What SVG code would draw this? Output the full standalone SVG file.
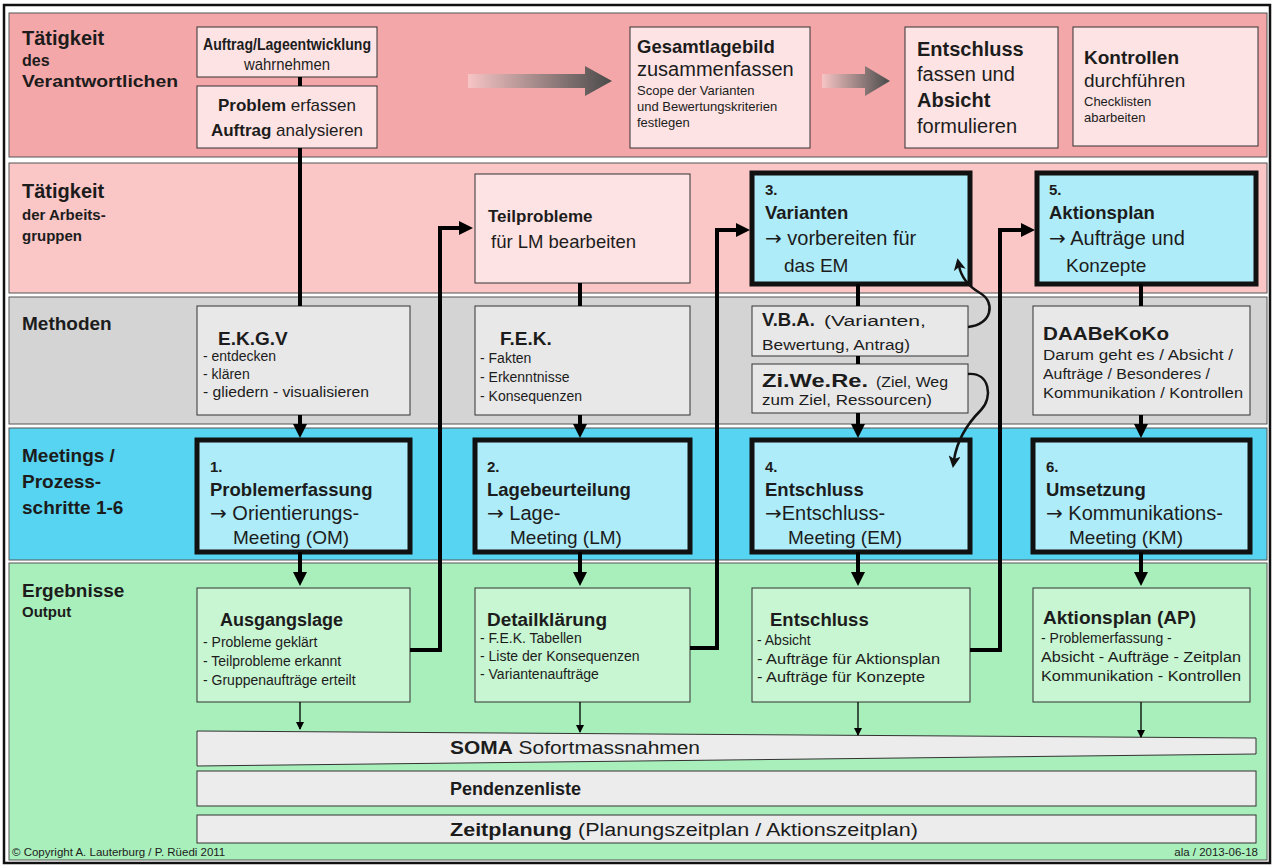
<svg xmlns="http://www.w3.org/2000/svg" width="1274" height="867" viewBox="0 0 1274 867">
<style>
text{font-family:"Liberation Sans",Arial,Helvetica,sans-serif;fill:#1c1c1c}
.b{font-weight:bold}
.h{font-size:19px;font-weight:bold}
.m{font-size:15px;font-weight:bold}
.x{font-size:17px}
.y{font-size:19px}
.z{font-size:20px}
.s{font-size:14px}
.xs{font-size:13px}
.arw{font-family:"DejaVu Sans",sans-serif}
.band{stroke:#555;stroke-width:1}
.pk{fill:#fde3e3;stroke:#333;stroke-width:1}
.gy{fill:#e8e8e8;stroke:#333;stroke-width:1}
.gn{fill:#c8f5d2;stroke:#333;stroke-width:1}
.cy{fill:#aeecf9;stroke:#111;stroke-width:5}
.bar{fill:#ececec;stroke:#333;stroke-width:1}
.ln{stroke:#000;stroke-width:4;fill:none}
.ar{stroke:#000;stroke-width:4;fill:none;marker-end:url(#ah)}
.el{stroke:#000;stroke-width:4;fill:none;stroke-linejoin:miter;marker-end:url(#ah)}
.cv{stroke:#111;stroke-width:2.5;fill:none;marker-end:url(#ahc)}
.th{stroke:#000;stroke-width:1.3;fill:none;marker-end:url(#aht)}
</style>
<defs>
<marker id="ah" markerUnits="userSpaceOnUse" markerWidth="14" markerHeight="14" refX="4" refY="7" orient="auto">
<path d="M0,0 L14,7 L0,14 z" fill="#000"/>
</marker>
<marker id="ahc" markerUnits="userSpaceOnUse" markerWidth="12" markerHeight="12" refX="4" refY="6" orient="auto">
<path d="M0,0 L12,6 L0,12 L3,6 z" fill="#111"/>
</marker>
<marker id="aht" markerUnits="userSpaceOnUse" markerWidth="8" markerHeight="8" refX="7" refY="4" orient="auto">
<path d="M0,0 L8,4 L0,8 z" fill="#000"/>
</marker>
<linearGradient id="fade" x1="0" y1="0" x2="1" y2="0">
<stop offset="0" stop-color="#f7c4c4"/>
<stop offset="1" stop-color="#4a4a4a"/>
</linearGradient>
</defs>

<!-- frame -->
<rect x="4" y="5" width="1266" height="858" fill="#fff" stroke="#111" stroke-width="2.5"/>

<!-- swimlane bands -->
<g id="bands">
<rect class="band" x="9" y="13" width="1258" height="144" fill="#f4a7a8"/>
<rect class="band" x="9" y="163" width="1258" height="130" fill="#fac6c6"/>
<rect class="band" x="9" y="297" width="1258" height="127" fill="#d4d4d4"/>
<rect class="band" x="9" y="428" width="1258" height="132" fill="#57d4f1"/>
<rect class="band" x="9" y="563" width="1258" height="297" fill="#a9efbb"/>
</g>

<!-- lane titles -->
<g id="lane-titles">
<text class="h" x="22" y="45" style="font-size:20px">Tätigkeit</text>
<text class="m" x="22" y="66" style="font-size:16px">des</text>
<text class="m" x="22" y="87" style="font-size:16px" textLength="156" lengthAdjust="spacingAndGlyphs">Verantwortlichen</text>
<text class="h" x="22" y="198" style="font-size:20px">Tätigkeit</text>
<text class="m" x="22" y="220">der Arbeits-</text>
<text class="m" x="22" y="241">gruppen</text>
<text class="h" x="22" y="330">Methoden</text>
<text class="h" x="22" y="462">Meetings /</text>
<text class="h" x="22" y="488">Prozess-</text>
<text class="h" x="22" y="514">schritte 1-6</text>
<text class="h" x="22" y="597">Ergebnisse</text>
<text class="m" x="22" y="617">Output</text>
</g>

<!-- row 1: responsible person -->
<g id="auftrag">
<rect class="pk" x="197" y="27" width="180" height="50"/>
<text class="x b" x="287" y="50" text-anchor="middle" textLength="168" lengthAdjust="spacingAndGlyphs">Auftrag/Lageentwicklung</text>
<text class="x" x="287" y="70" text-anchor="middle" textLength="86" lengthAdjust="spacingAndGlyphs">wahrnehmen</text>
</g>
<g id="problem">
<rect class="pk" x="197" y="86" width="180" height="62"/>
<text class="x" x="287" y="111" text-anchor="middle"><tspan class="b">Problem</tspan> erfassen</text>
<text class="x" x="287" y="136" text-anchor="middle"><tspan class="b">Auftrag</tspan> analysieren</text>
</g>
<g id="gesamtlagebild">
<rect class="pk" x="630" y="27" width="180" height="121"/>
<text class="b" x="637" y="53" style="font-size:18.5px">Gesamtlagebild</text>
<text class="z" x="637" y="76">zusammenfassen</text>
<text class="xs" x="637" y="95">Scope der Varianten</text>
<text class="xs" x="637" y="111">und Bewertungskriterien</text>
<text class="xs" x="637" y="127">festlegen</text>
</g>
<g id="entschluss-fassen">
<rect class="pk" x="905" y="27" width="153" height="121"/>
<text class="z b" x="917" y="56">Entschluss</text>
<text class="z" x="917" y="81">fassen und</text>
<text class="z b" x="917" y="107">Absicht</text>
<text class="z" x="917" y="133">formulieren</text>
</g>
<g id="kontrollen">
<rect class="pk" x="1073" y="27" width="185" height="119"/>
<text class="y b" x="1084" y="64">Kontrollen</text>
<text class="y" x="1084" y="87">durchführen</text>
<text class="xs" x="1084" y="106">Checklisten</text>
<text class="xs" x="1084" y="122">abarbeiten</text>
</g>

<!-- row 2: working groups -->
<g id="teilprobleme">
<rect class="pk" x="475" y="174" width="215" height="109"/>
<text class="x b" x="488" y="222">Teilprobleme</text>
<text x="491" y="248" style="font-size:18.5px">für LM bearbeiten</text>
</g>
<g id="varianten">
<rect class="cy" x="752" y="173" width="218" height="111"/>
<text class="m" x="765" y="195">3.</text>
<text class="b" x="765" y="219" style="font-size:18.5px">Varianten</text>
<text class="z" x="765" y="245"><tspan class="arw">→</tspan> vorbereiten für</text>
<text class="y" x="784" y="272">das EM</text>
</g>
<g id="aktionsplan">
<rect class="cy" x="1037" y="173" width="219" height="111"/>
<text class="m" x="1049" y="195">5.</text>
<text class="b" x="1049" y="219" style="font-size:18.5px">Aktionsplan</text>
<text class="z" x="1049" y="245"><tspan class="arw">→</tspan> Aufträge und</text>
<text class="y" x="1066" y="272">Konzepte</text>
</g>

<!-- row 3: methods -->
<g id="ekgv">
<rect class="gy" x="197" y="306" width="213" height="109"/>
<text class="h" x="218" y="345">E.K.G.V</text>
<text class="s" x="203" y="361">-  entdecken</text>
<text class="s" x="203" y="379">-  klären</text>
<text class="s" x="203" y="397" textLength="166" lengthAdjust="spacingAndGlyphs">-  gliedern - visualisieren</text>
</g>
<g id="fek">
<rect class="gy" x="475" y="306" width="215" height="109"/>
<text class="h" x="500" y="345">F.E.K.</text>
<text class="s" x="480" y="363">- Fakten</text>
<text class="s" x="480" y="382">-  Erkenntnisse</text>
<text class="s" x="480" y="401">-  Konsequenzen</text>
</g>
<g id="vba">
<rect class="gy" x="752" y="306" width="216" height="50"/>
<text class="b" x="762" y="326" style="font-size:18.5px">V.B.A.</text>
<text class="s" x="824" y="326" textLength="102" lengthAdjust="spacingAndGlyphs">(Varianten,</text>
<text class="s" x="762" y="350" textLength="148" lengthAdjust="spacingAndGlyphs">Bewertung, Antrag)</text>
</g>
<g id="ziwere">
<rect class="gy" x="752" y="364" width="216" height="49"/>
<text class="b" x="762" y="387" style="font-size:18.5px" textLength="106" lengthAdjust="spacingAndGlyphs">Zi.We.Re.</text>
<text class="s" x="876" y="387" textLength="72" lengthAdjust="spacingAndGlyphs">(Ziel, Weg</text>
<text class="s" x="762" y="405" textLength="170" lengthAdjust="spacingAndGlyphs">zum Ziel, Ressourcen)</text>
</g>
<g id="daabekoko">
<rect class="gy" x="1033" y="306" width="217" height="109"/>
<text class="h" x="1043" y="340" textLength="126" lengthAdjust="spacingAndGlyphs">DAABeKoKo</text>
<text class="s" x="1043" y="360" textLength="190" lengthAdjust="spacingAndGlyphs">Darum geht es / Absicht /</text>
<text class="s" x="1043" y="379" textLength="167" lengthAdjust="spacingAndGlyphs">Aufträge / Besonderes /</text>
<text class="s" x="1043" y="398" textLength="200" lengthAdjust="spacingAndGlyphs">Kommunikation / Kontrollen</text>
</g>

<!-- row 4: meetings -->
<g id="m1">
<rect class="cy" x="197" y="440" width="213" height="112"/>
<text class="m" x="210" y="472">1.</text>
<text class="b" x="210" y="496" style="font-size:18.5px">Problemerfassung</text>
<text class="z" x="210" y="520"><tspan class="arw">→</tspan> Orientierungs-</text>
<text class="y" x="233" y="544">Meeting (OM)</text>
</g>
<g id="m2">
<rect class="cy" x="475" y="440" width="215" height="112"/>
<text class="m" x="487" y="472">2.</text>
<text class="b" x="487" y="496" style="font-size:18.5px">Lagebeurteilung</text>
<text class="z" x="487" y="520"><tspan class="arw">→</tspan> Lage-</text>
<text class="y" x="510" y="544">Meeting (LM)</text>
</g>
<g id="m4">
<rect class="cy" x="752" y="440" width="218" height="112"/>
<text class="m" x="765" y="472">4.</text>
<text class="b" x="765" y="496" style="font-size:18.5px">Entschluss</text>
<text class="z" x="765" y="520"><tspan class="arw">→</tspan>Entschluss-</text>
<text class="y" x="788" y="544">Meeting (EM)</text>
</g>
<g id="m6">
<rect class="cy" x="1033" y="440" width="217" height="112"/>
<text class="m" x="1046" y="472">6.</text>
<text class="b" x="1046" y="496" style="font-size:18.5px">Umsetzung</text>
<text class="z" x="1046" y="520"><tspan class="arw">→</tspan> Kommunikations-</text>
<text class="y" x="1069" y="544">Meeting (KM)</text>
</g>

<!-- row 5: results -->
<g id="ausgangslage">
<rect class="gn" x="197" y="588" width="213" height="114"/>
<text class="h" x="220" y="626" style="font-size:18px">Ausgangslage</text>
<text class="s" x="203" y="647">-  Probleme geklärt</text>
<text class="s" x="203" y="666">-  Teilprobleme erkannt</text>
<text class="s" x="203" y="685">-  Gruppenaufträge erteilt</text>
</g>
<g id="detailklaerung">
<rect class="gn" x="475" y="588" width="215" height="114"/>
<text class="h" x="487" y="626" style="font-size:18px" textLength="120" lengthAdjust="spacingAndGlyphs">Detailklärung</text>
<text class="s" x="480" y="643">-  F.E.K. Tabellen</text>
<text class="s" x="480" y="661">-  Liste der Konsequenzen</text>
<text class="s" x="480" y="679">-  Variantenaufträge</text>
</g>
<g id="entschluss">
<rect class="gn" x="752" y="588" width="218" height="114"/>
<text class="h" x="770" y="626" style="font-size:18.5px">Entschluss</text>
<text class="s" x="757" y="645">-  Absicht</text>
<text class="s" x="757" y="664" textLength="183" lengthAdjust="spacingAndGlyphs">-  Aufträge für Aktionsplan</text>
<text class="s" x="757" y="682" textLength="168" lengthAdjust="spacingAndGlyphs">-  Aufträge für Konzepte</text>
</g>
<g id="ap">
<rect class="gn" x="1033" y="588" width="217" height="114"/>
<text class="h" x="1043" y="624">Aktionsplan (AP)</text>
<text class="s" x="1041" y="643">- Problemerfassung -</text>
<text class="s" x="1041" y="662" textLength="200" lengthAdjust="spacingAndGlyphs">Absicht - Aufträge - Zeitplan</text>
<text class="s" x="1041" y="681" textLength="200" lengthAdjust="spacingAndGlyphs">Kommunikation - Kontrollen</text>
</g>

<!-- running lists -->
<g id="soma">
<path class="bar" d="M197,731 L1256,738 L1256,754 L197,766 z"/>
<text x="450" y="754" style="font-size:18px" textLength="250" lengthAdjust="spacingAndGlyphs"><tspan class="b">SOMA</tspan> Sofortmassnahmen</text>
</g>
<g id="pendenzen">
<rect class="bar" x="197" y="771" width="1059" height="35"/>
<text class="b" x="450" y="795" style="font-size:18px">Pendenzenliste</text>
</g>
<g id="zeitplanung">
<rect class="bar" x="197" y="815" width="1059" height="28"/>
<text x="450" y="836" style="font-size:18px" textLength="468" lengthAdjust="spacingAndGlyphs"><tspan class="b">Zeitplanung</tspan> (Planungszeitplan / Aktionszeitplan)</text>
</g>

<text class="xs" x="12" y="856" style="font-size:11.5px">© Copyright A. Lauterburg / P. Rüedi 2011</text>
<text class="xs" x="1258" y="856" text-anchor="end" style="font-size:11.5px">ala / 2013-06-18</text>

<!-- flow arrows -->
<g id="connectors">
<path d="M468,74 L585,74 L585,66 L612,81 L585,96 L585,88 L468,88 z" fill="url(#fade)"/>
<path d="M822,74 L865,74 L865,66 L890,81 L865,96 L865,88 L822,88 z" fill="url(#fade)"/>

<line class="ln" x1="300" y1="77" x2="300" y2="86"/>
<line class="ln" x1="300" y1="148" x2="300" y2="306"/>
<line class="ar" x1="300" y1="415" x2="300" y2="428"/>
<line class="ar" x1="300" y1="552" x2="300" y2="576"/>

<line class="ln" x1="580" y1="283" x2="580" y2="306"/>
<line class="ar" x1="580" y1="415" x2="580" y2="428"/>
<line class="ar" x1="580" y1="552" x2="580" y2="576"/>

<line class="ln" x1="858" y1="284" x2="858" y2="306"/>
<line class="ln" x1="858" y1="356" x2="858" y2="364"/>
<line class="ar" x1="858" y1="413" x2="858" y2="428"/>
<line class="ar" x1="858" y1="552" x2="858" y2="576"/>

<line class="ln" x1="1141" y1="284" x2="1141" y2="306"/>
<line class="ar" x1="1141" y1="415" x2="1141" y2="428"/>
<line class="ar" x1="1141" y1="552" x2="1141" y2="576"/>

<polyline class="el" points="410,650 440,650 440,228 463,228"/>
<polyline class="el" points="690,648 717,648 717,230 740,230"/>
<polyline class="el" points="970,650 1000,650 1000,230 1025,230"/>

<path class="cv" d="M968,327 C992,325 996,302 980,293 C968,286 961,276 959,266"/>
<path class="cv" d="M968,374 C990,372 993,398 981,410 C966,425 957,440 954,460"/>

<line class="th" x1="300" y1="702" x2="300" y2="729"/>
<line class="th" x1="580" y1="702" x2="580" y2="732"/>
<line class="th" x1="858" y1="702" x2="858" y2="735"/>
<line class="th" x1="1141" y1="702" x2="1141" y2="737"/>
</g>
</svg>
